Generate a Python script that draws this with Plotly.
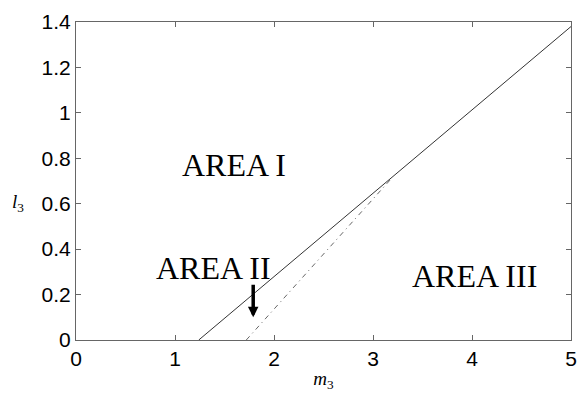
import plotly.graph_objects as go

# Boundary lines (m3, l3)
solid_m3 = [1.24, 5.0]
solid_l3 = [0.0, 1.38]
dashed_m3 = [1.72, 3.18]
dashed_l3 = [0.0, 0.708]

# Region labels
area_labels = ["AREA I", "AREA II", "AREA III"]
area_m3 = [1.60, 1.39, 4.03]
area_l3 = [0.77, 0.315, 0.28]

# Arrow (tail -> head)
arrow_m3 = 1.79
arrow_tail_l3 = 0.25
arrow_head_l3 = 0.10

x_ticks = [0, 1, 2, 3, 4, 5]
y_ticks = [0, 0.2, 0.4, 0.6, 0.8, 1, 1.2, 1.4]
y_tick_text = ["0", "0.2", "0.4", "0.6", "0.8", "1", "1.2", "1.4"]

fig = go.Figure()
fig.add_trace(go.Scatter(x=solid_m3, y=solid_l3, mode="lines",
                         line=dict(color="#333333", width=1), showlegend=False))
fig.add_trace(go.Scatter(x=dashed_m3, y=dashed_l3, mode="lines",
                         line=dict(color="#666666", width=1, dash="5px,4px,1px,4px"),
                         showlegend=False))

for t, xm, yl in zip(area_labels, area_m3, area_l3):
    fig.add_annotation(x=xm, y=yl, text=t, showarrow=False,
                       font=dict(family="Liberation Serif", size=32, color="black"))

fig.add_annotation(x=arrow_m3, y=arrow_head_l3, ax=arrow_m3, ay=arrow_tail_l3,
                   xref="x", yref="y", axref="x", ayref="y", text="",
                   showarrow=True, arrowhead=2, arrowsize=0.6, arrowwidth=3.5,
                   arrowcolor="black")

axis_common = dict(showgrid=False, zeroline=False, showline=True, linecolor="#666666",
                   linewidth=1, mirror="ticks", ticks="inside", ticklen=5,
                   tickcolor="#666666",
                   tickfont=dict(family="Liberation Sans", size=21, color="black"))

fig.update_xaxes(range=[0, 5], tickvals=x_ticks, **axis_common,
                 title=dict(text="<i>m</i><sub>3</sub>", standoff=2,
                            font=dict(family="Liberation Serif", size=19, color="black")))
fig.update_yaxes(range=[0, 1.4], tickvals=y_ticks, ticktext=y_tick_text, **axis_common)

fig.add_annotation(xref="paper", yref="paper", text="<i>l</i><sub>3</sub>",
                   x=(17 - 76) / 501, y=(345 - 203) / 330,
                   xanchor="center", yanchor="middle",
                   showarrow=False, font=dict(family="Liberation Serif", size=19, color="black"))

fig.update_layout(width=587, height=396, margin=dict(l=76, r=10, t=15, b=51),
                  plot_bgcolor="white", paper_bgcolor="white")

fig.write_html("out.html")
